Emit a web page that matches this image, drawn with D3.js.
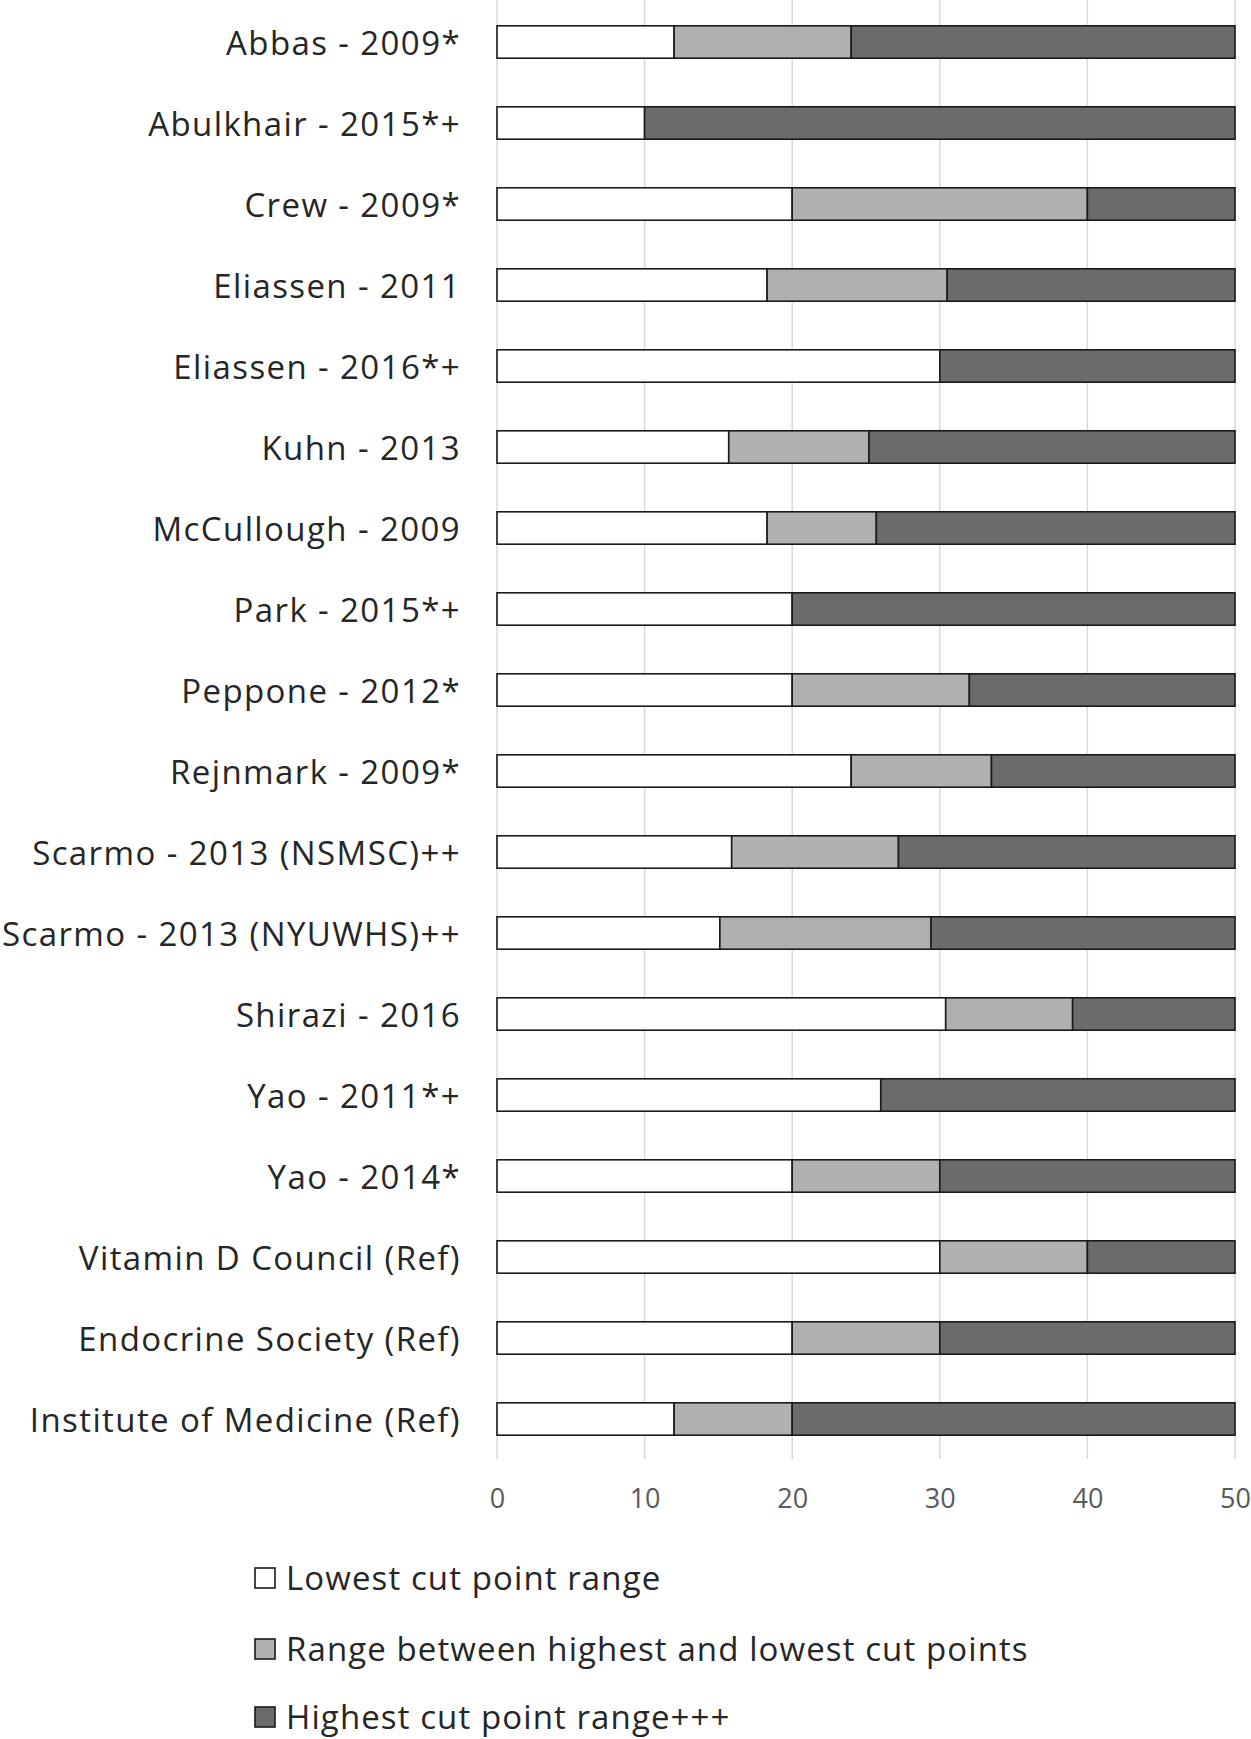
<!DOCTYPE html>
<html>
<head>
<meta charset="utf-8">
<script src="https://cdn.jsdelivr.net/npm/d3@7"></script>
<style>
  html, body { margin: 0; padding: 0; background: #fff; }
  svg { display: block; }
  text { font-family: "Open Sans", Lato, sans-serif; }
</style>
</head>
<body>
<svg id="chart" width="1251" height="1739"></svg>
<script>
const categories = [
  "Abbas - 2009*", "Abulkhair - 2015*+", "Crew - 2009*", "Eliassen - 2011",
  "Eliassen - 2016*+", "Kuhn - 2013", "McCullough - 2009", "Park - 2015*+",
  "Peppone - 2012*", "Rejnmark - 2009*", "Scarmo - 2013 (NSMSC)++",
  "Scarmo - 2013 (NYUWHS)++", "Shirazi - 2016", "Yao - 2011*+", "Yao - 2014*",
  "Vitamin D Council (Ref)", "Endocrine Society (Ref)", "Institute of Medicine (Ref)"
];
// segment widths (ng/mL)
const lowestRange  = [12, 10, 20, 18.3, 30, 15.7, 18.3, 20, 20, 24, 15.9, 15.1, 30.4, 26, 20, 30, 20, 12];
const betweenRange = [12, 0, 20, 12.2, 0, 9.5, 7.4, 0, 12, 9.5, 11.3, 14.3, 8.6, 0, 10, 10, 10, 8];
const highestRange = [26, 40, 10, 19.5, 20, 24.8, 24.3, 30, 18, 16.5, 22.8, 20.6, 11, 24, 20, 10, 20, 30];
const xTicks = [0, 10, 20, 30, 40, 50];
const seriesNames = ["Lowest cut point range", "Range between highest and lowest cut points", "Highest cut point range+++"];
const seriesColors = ["#ffffff", "#b0b0b0", "#6b6b6b"];

const svg = d3.select("#chart");
const x = d3.scaleLinear().domain([0, 50]).range([497, 1235]);
const y = d3.scaleBand().domain(categories).range([1.5, 1459.5]).paddingInner(0.6).paddingOuter(0.3);

// gridlines
svg.append("g").selectAll("line").data(xTicks).join("line")
  .attr("x1", d => x(d)).attr("x2", d => x(d))
  .attr("y1", 0).attr("y2", 1459)
  .attr("stroke", "#d9d9d9").attr("stroke-width", 1.5);

// stacked data
const stackData = categories.map((c, i) => ({cat: c, s0: lowestRange[i], s1: betweenRange[i], s2: highestRange[i]}));
const layers = d3.stack().keys(["s0", "s1", "s2"])(stackData);

svg.append("g").selectAll("g").data(layers).join("g")
  .attr("fill", (d, i) => seriesColors[i])
  .selectAll("rect").data(d => d.filter(p => p[1] - p[0] > 0)).join("rect")
  .attr("x", d => x(d[0]))
  .attr("width", d => x(d[1]) - x(d[0]))
  .attr("y", d => y(d.data.cat))
  .attr("height", y.bandwidth())
  .attr("stroke", "#1a1a1a").attr("stroke-width", 1.6);

// y axis labels
const yAxis = d3.axisLeft(y).tickSize(0).tickPadding(0);
const gy = svg.append("g").attr("transform", "translate(461,2)").call(yAxis);
gy.select(".domain").remove();
gy.selectAll("text").attr("font-size", 33).attr("fill", "#262626")
  .attr("letter-spacing", 1.4)
  .attr("font-family", "'Open Sans', Lato, sans-serif");

// x axis
const xAxis = d3.axisBottom(x).tickValues(xTicks).tickSize(0).tickPadding(0);
const gx = svg.append("g").attr("transform", "translate(0,1489)").call(xAxis);
gx.select(".domain").remove();
gx.selectAll("text").attr("font-size", 27).attr("fill", "#595959")
  .attr("font-family", "Lato, 'Open Sans', sans-serif");

// legend
const legendY = [1578, 1649, 1717];
const lg = svg.append("g").selectAll("g").data(seriesNames).join("g")
  .attr("transform", (d, i) => `translate(255,${legendY[i]})`);
lg.append("rect").attr("x", 0).attr("y", -10).attr("width", 20).attr("height", 20)
  .attr("fill", (d, i) => seriesColors[i]).attr("stroke", "#1a1a1a").attr("stroke-width", 1.6);
lg.append("text").attr("x", 31).attr("dy", "0.35em").attr("font-size", 33).attr("fill", "#262626")
  .attr("letter-spacing", 1.1)
  .text(d => d);
</script>
</body>
</html>
